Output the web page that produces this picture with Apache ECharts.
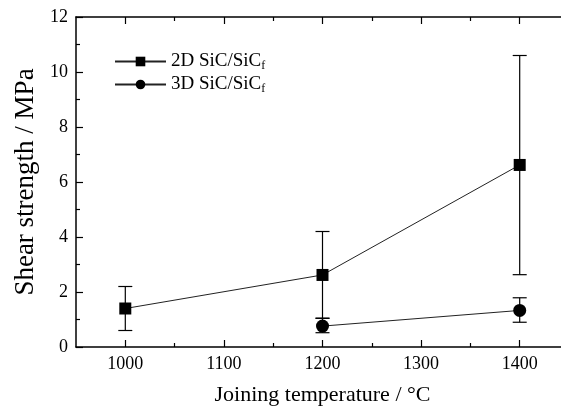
<!DOCTYPE html>
<html>
<head>
<meta charset="utf-8">
<script src="https://cdn.jsdelivr.net/npm/echarts@6/dist/echarts.min.js"></script>
<style>
  html, body { margin: 0; padding: 0; background: #fff; }
  #chart { width: 561px; height: 408px; }
</style>
</head>
<body>
<div id="chart"></div>
<script>
// 2D SiC/SiCf joints
var temps2D = [1000, 1200, 1400];
var strength2D = [1.4, 2.62, 6.62];
var low2D = [0.6, 1.05, 2.63];
var high2D = [2.2, 4.2, 10.6];

// 3D SiC/SiCf joints
var temps3D = [1200, 1400];
var strength3D = [0.76, 1.33];
var low3D = [0.52, 0.9];
var high3D = [1.04, 1.79];

var xMajorTicks = [1000, 1100, 1200, 1300, 1400];
var xMinorTicks = [1050, 1150, 1250, 1350];

var FONT = "Liberation Serif";

function pairs(xs, ys) {
  return xs.map(function (x, i) { return [x, ys[i]]; });
}
function bars(xs, lo, hi) {
  return xs.map(function (x, i) { return [x, lo[i], hi[i]]; });
}

function errorBar(params, api) {
  var x = api.value(0);
  var top = api.coord([x, api.value(2)]);
  var bot = api.coord([x, api.value(1)]);
  var hw = 7;
  var st = { stroke: "#000", lineWidth: 1.2 };
  return {
    type: "group",
    children: [
      { type: "line", shape: { x1: top[0], y1: top[1], x2: bot[0], y2: bot[1] }, style: st },
      { type: "line", shape: { x1: top[0] - hw, y1: top[1], x2: top[0] + hw, y2: top[1] }, style: st },
      { type: "line", shape: { x1: bot[0] - hw, y1: bot[1], x2: bot[0] + hw, y2: bot[1] }, style: st }
    ]
  };
}

var chart = echarts.init(document.getElementById("chart"));

function xAxisBase(pos, ticks, len, showLine, labels) {
  return {
    type: "value",
    position: pos,
    min: 950,
    max: 1450,
    axisLine: { show: showLine, lineStyle: { color: "#000", width: 1.5 } },
    axisTick: { show: true, inside: true, length: len, customValues: ticks, lineStyle: { color: "#000", width: 1.2 } },
    axisLabel: labels ? {
      show: true, customValues: ticks, margin: 8,
      fontFamily: FONT, fontSize: 18, color: "#000",
      formatter: function (v) { return String(v); }
    } : { show: false },
    splitLine: { show: false }
  };
}

var xMain = xAxisBase("bottom", xMajorTicks, 7, true, true);
xMain.name = "Joining temperature / °C";
xMain.nameLocation = "middle";
xMain.nameGap = 37;
xMain.nameTextStyle = { fontFamily: FONT, fontSize: 22, color: "#000" };

var option = {
  animation: false,
  backgroundColor: "#fff",
  grid: { left: 76, top: 17, height: 330, width: 493, containLabel: false, outerBoundsMode: "none" },
  legend: {
    orient: "vertical",
    left: 109,
    top: 47,
    itemWidth: 51,
    itemHeight: 12,
    itemGap: 3,
    data: ["2D", "3D"],
    formatter: function (name) {
      return "{a|" + name + " SiC/SiC}{s|f}";
    },
    textStyle: {
      color: "#000",
      fontFamily: FONT,
      fontSize: 19,
      rich: {
        a: { fontFamily: FONT, fontSize: 19, color: "#000" },
        s: { fontFamily: FONT, fontSize: 12, color: "#000", padding: [9, 0, 0, 0] }
      }
    }
  },
  xAxis: [
    xMain,
    xAxisBase("bottom", xMinorTicks, 4, false, false),
    xAxisBase("top", xMajorTicks, 7, true, false),
    xAxisBase("top", xMinorTicks, 4, false, false)
  ],
  yAxis: {
    type: "value",
    min: 0,
    max: 12,
    interval: 2,
    name: "Shear strength / MPa",
    nameLocation: "middle",
    nameGap: 37,
    nameTextStyle: { fontFamily: FONT, fontSize: 27, color: "#000" },
    axisLine: { show: true, lineStyle: { color: "#000", width: 1.5 } },
    axisTick: { show: true, inside: true, length: 7, lineStyle: { color: "#000", width: 1.2 } },
    minorTick: { show: true, splitNumber: 2, length: 4, lineStyle: { color: "#000", width: 1.2 } },
    axisLabel: { margin: 8, fontFamily: FONT, fontSize: 18, color: "#000" },
    splitLine: { show: false }
  },
  series: [
    {
      type: "custom",
      renderItem: errorBar,
      xAxisIndex: 0,
      encode: { x: 0, y: [1, 2] },
      data: bars(temps2D, low2D, high2D),
      z: 1
    },
    {
      type: "custom",
      renderItem: errorBar,
      xAxisIndex: 0,
      encode: { x: 0, y: [1, 2] },
      data: bars(temps3D, low3D, high3D),
      z: 1
    },
    {
      name: "2D",
      type: "line",
      xAxisIndex: 0,
      data: pairs(temps2D, strength2D),
      symbol: "rect",
      symbolSize: 12,
      lineStyle: { color: "#222", width: 1 },
      itemStyle: { color: "#000" },
      z: 3
    },
    {
      name: "3D",
      type: "line",
      xAxisIndex: 0,
      data: pairs(temps3D, strength3D),
      symbol: "circle",
      symbolSize: 13,
      lineStyle: { color: "#222", width: 1 },
      itemStyle: { color: "#000" },
      z: 3
    }
  ]
};

chart.setOption(option);
</script>
</body>
</html>
